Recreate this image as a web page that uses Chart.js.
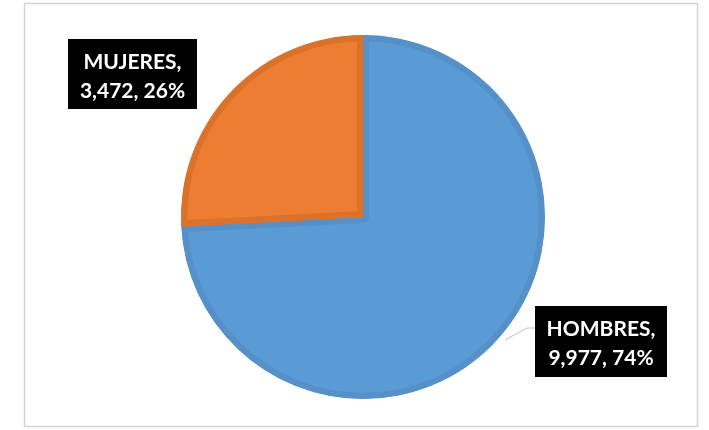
<!DOCTYPE html>
<html>
<head>
<meta charset="utf-8">
<script src="https://cdn.jsdelivr.net/npm/chart.js@4.4.0/dist/chart.umd.min.js"></script>
<style>
  html, body { margin: 0; padding: 0; background: #fff; }
  #wrap { width: 709px; height: 430px; }
</style>
</head>
<body>
<div id="wrap"><canvas id="myChart" width="709" height="430"></canvas></div>
<script>
// datos
const categories = ['HOMBRES', 'MUJERES'];
const values = [9977, 3472];
const percents = [74, 26];

const fills = ['#5b9bd5', '#ed7d31'];
const edges = ['#5590c8', '#db722c'];

// where each label box sits (top-left corner), plus leader line for hombres
const labelBoxes = [
  { x: 535, y: 306, w: 132, h: 71, leader: [[535, 328], [527, 328], [505, 340]] },
  { x: 68, y: 39, w: 129, h: 70, leader: null }
];

const frame = {
  id: 'frame',
  beforeDraw(chart) {
    const ctx = chart.ctx;
    ctx.save();
    ctx.strokeStyle = '#d4d4d4';
    ctx.lineWidth = 1.5;
    ctx.strokeRect(24.5, 3.5, 673, 423);
    ctx.restore();
  }
};

const boxLabels = {
  id: 'boxLabels',
  afterDraw(chart) {
    const ctx = chart.ctx;
    ctx.save();
    labelBoxes.forEach((b, i) => {
      if (b.leader) {
        ctx.strokeStyle = '#bfbfbf';
        ctx.lineWidth = 1;
        ctx.beginPath();
        ctx.moveTo(b.leader[0][0], b.leader[0][1]);
        for (let k = 1; k < b.leader.length; k++) ctx.lineTo(b.leader[k][0], b.leader[k][1]);
        ctx.stroke();
      }
      ctx.fillStyle = '#000';
      ctx.fillRect(b.x, b.y, b.w, b.h);
      ctx.fillStyle = '#fff';
      ctx.font = 'bold 21px Lato';
      ctx.textAlign = 'center';
      ctx.textBaseline = 'middle';
      const cx = b.x + b.w / 2;
      ctx.fillText(categories[i] + ',', cx, b.y + 23);
      ctx.fillText(values[i].toLocaleString('en-US') + ', ' + percents[i] + '%', cx, b.y + 52);
    });
    ctx.restore();
  }
};

const ctx = document.getElementById('myChart').getContext('2d');
const chart = new Chart(ctx, {
  type: 'pie',
  data: {
    labels: categories,
    datasets: [{
      data: values,
      backgroundColor: fills,
      borderColor: edges,
      borderWidth: 6,
      borderAlign: 'inner'
    }]
  },
  options: {
    responsive: false,
    animation: false,
    layout: { padding: { top: 35, bottom: 31, left: 181, right: 164 } },
    plugins: {
      legend: { display: false },
      tooltip: { enabled: false }
    }
  },
  plugins: [frame, boxLabels]
});
</script>
</body>
</html>
